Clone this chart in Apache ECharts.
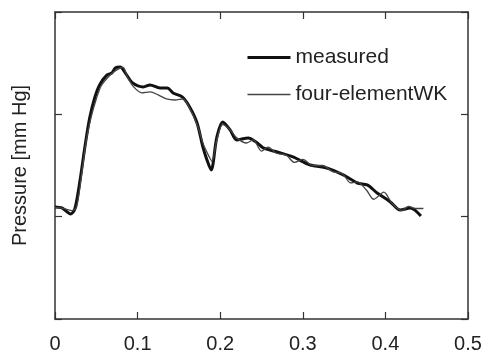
<!DOCTYPE html>
<html>
<head>
<meta charset="utf-8">
<script src="https://cdn.jsdelivr.net/npm/echarts@6/dist/echarts.min.js"></script>
<style>
  * { margin: 0; padding: 0; }
  body { background: #fff; }
</style>
</head>
<body>
<!-- chart container -->
<div id="main" style="width: 486px; height: 361px;"></div>
<script>
  // time axis ticks
  var xTicks = [0, 0.1, 0.2, 0.3, 0.4, 0.5];

  // measured pressure (thick line)
  var measuredT = [0, 0.0085, 0.019, 0.024, 0.030, 0.036, 0.042, 0.048, 0.054, 0.063, 0.069, 0.073, 0.079,
    0.085, 0.094, 0.107, 0.115, 0.127, 0.136, 0.143, 0.154, 0.163, 0.172, 0.179, 0.184, 0.189,
    0.196, 0.203, 0.212, 0.220, 0.234, 0.245, 0.252, 0.269, 0.288, 0.309, 0.329, 0.349, 0.366,
    0.378, 0.390, 0.406, 0.418, 0.430, 0.443];
  var measuredP = [1.095, 1.085, 1.026, 1.075, 1.339, 1.672, 1.965, 2.160, 2.287, 2.385, 2.405, 2.454, 2.463,
    2.405, 2.307, 2.268, 2.287, 2.258, 2.258, 2.209, 2.170, 2.072, 1.916, 1.681, 1.554, 1.457,
    1.779, 1.926, 1.848, 1.750, 1.769, 1.720, 1.672, 1.632, 1.584, 1.505, 1.476, 1.408, 1.329,
    1.310, 1.232, 1.144, 1.065, 1.085, 1.007];

  // four-element windkessel model (thin line)
  var modelT = [0, 0.010, 0.020, 0.026, 0.032, 0.038, 0.044, 0.050, 0.056, 0.065, 0.072, 0.082,
    0.088, 0.095, 0.105, 0.115, 0.125, 0.135, 0.145, 0.155, 0.163, 0.172, 0.180, 0.187, 0.190,
    0.196, 0.203, 0.212, 0.220, 0.232, 0.240, 0.250, 0.258, 0.268, 0.280, 0.290, 0.300, 0.312,
    0.324, 0.336, 0.348, 0.358, 0.366, 0.377, 0.386, 0.398, 0.408, 0.420, 0.428, 0.436, 0.446];
  var modelP = [1.09, 1.08, 1.06, 1.09, 1.40, 1.75, 1.98, 2.15, 2.28, 2.37, 2.42, 2.46,
    2.36, 2.27, 2.21, 2.22, 2.19, 2.15, 2.14, 2.15, 2.06, 1.90, 1.70, 1.58, 1.54,
    1.75, 1.90, 1.85, 1.77, 1.72, 1.75, 1.64, 1.68, 1.62, 1.60, 1.53, 1.56, 1.50,
    1.50, 1.44, 1.42, 1.33, 1.34, 1.26, 1.17, 1.24, 1.13, 1.06, 1.10, 1.08, 1.08];

  function pairs(t, p) {
    return t.map(function (v, i) { return [v, p[i]]; });
  }

  var font = 'Liberation Sans, Arial, sans-serif';
  var axisCol = '#333';
  var noDot = { color: 'transparent', borderColor: 'transparent', borderWidth: 0, opacity: 0 };

  function boxAxis(extra) {
    var a = {
      axisLine: { show: true, onZero: false, lineStyle: { color: axisCol, width: 1.5 } },
      axisTick: { show: true, inside: true, length: 7, lineStyle: { color: axisCol, width: 1.2 } },
      axisLabel: { show: false },
      splitLine: { show: false }
    };
    for (var k in extra) a[k] = extra[k];
    return a;
  }

  var chart = echarts.init(document.getElementById('main'));
  chart.setOption({
    animation: false,
    backgroundColor: '#fff',
    grid: { left: 55, right: 18, top: 12, bottom: 42, outerBoundsMode: 'none', containLabel: false },
    legend: {
      orient: 'vertical',
      left: 241,
      top: 42,
      itemWidth: 43,
      itemHeight: 22,
      itemGap: 16,
      textStyle: { fontFamily: font, fontSize: 21, color: '#222' },
      data: [
        { name: 'measured', itemStyle: noDot, lineStyle: { width: 3, color: '#111' } },
        { name: 'four-elementWK', itemStyle: noDot, lineStyle: { width: 1.3, color: '#444' } }
      ]
    },
    xAxis: [
      boxAxis({
        type: 'value', min: 0, max: 0.5, interval: 0.1, position: 'bottom',
        axisLabel: {
          show: true, margin: 15, fontFamily: font, fontSize: 20, color: '#222',
          formatter: function (v) { return String(+v.toFixed(1)); }
        }
      }),
      boxAxis({ type: 'value', min: 0, max: 0.5, interval: 0.1, position: 'top' })
    ],
    yAxis: [
      boxAxis({
        type: 'value', min: 0, max: 3, interval: 1, position: 'left',
        name: 'Pressure [mm Hg]', nameLocation: 'middle', nameGap: 25,
        nameTextStyle: { fontFamily: font, fontSize: 20, color: '#222' }
      }),
      boxAxis({ type: 'value', min: 0, max: 3, interval: 1, position: 'right' })
    ],
    series: [
      {
        name: 'measured', type: 'line', symbol: 'none', smooth: 0.3,
        lineStyle: { width: 3, color: '#111' }, itemStyle: { color: '#111' },
        data: pairs(measuredT, measuredP), z: 3
      },
      {
        name: 'four-elementWK', type: 'line', symbol: 'none', smooth: 0.3,
        lineStyle: { width: 1.3, color: '#444' }, itemStyle: { color: '#444' },
        data: pairs(modelT, modelP), z: 4
      }
    ]
  });
</script>
</body>
</html>
